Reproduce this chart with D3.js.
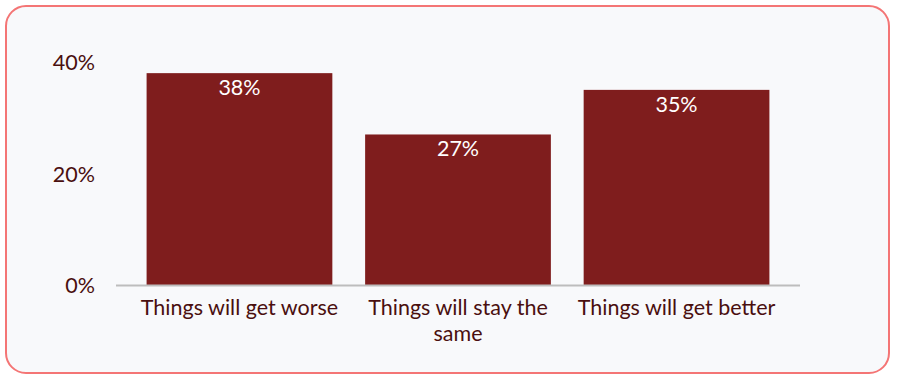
<!DOCTYPE html>
<html>
<head>
<meta charset="utf-8">
<script src="https://cdn.jsdelivr.net/npm/d3@7"></script>
<style>
html,body{margin:0;padding:0;background:#fff;}
svg{display:block;font-family:Lato,"Open Sans",sans-serif;}
</style>
</head>
<body>
<svg id="chart" width="898" height="380"></svg>
<script>
const categories = ["Things will get worse", "Things will stay the same", "Things will get better"];
const values = [38, 27, 35];
const tickValues = [0, 20, 40];
const tickLabels = ["0%", "20%", "40%"];

const W = 898, H = 380;
const svg = d3.select("#chart");
svg.append("rect").attr("x", 6).attr("y", 6).attr("width", 883).attr("height", 367)
  .attr("rx", 20).attr("ry", 20).attr("fill", "#f8f9fb").attr("stroke", "#f47575").attr("stroke-width", 2);

const left = 116, right = 800, bottom = 285;
const x = d3.scaleBand().domain(categories).range([left, right]).paddingInner(0.15).paddingOuter(0.14);
const y = d3.scaleLinear().domain([0, 40]).range([bottom, 62]);

const g = svg.append("g");
g.selectAll("rect.bar").data(values).join("rect").attr("class", "bar")
  .attr("x", (d, i) => x(categories[i])).attr("width", x.bandwidth())
  .attr("y", d => y(d)).attr("height", d => y(0) - y(d)).attr("fill", "#7f1d1d");

g.selectAll("text.val").data(values).join("text").attr("class", "val")
  .attr("x", (d, i) => x(categories[i]) + x.bandwidth() / 2)
  .attr("y", d => y(d) + 22).attr("text-anchor", "middle")
  .attr("fill", "#ffffff").attr("font-size", 21.5).text(d => d + "%");

// y axis
const yAxis = d3.axisLeft(y).tickValues(tickValues).tickFormat((d, i) => tickLabels[i]).tickSize(0).tickPadding(0);
const ya = svg.append("g").attr("transform", "translate(95,0)").call(yAxis);
ya.select(".domain").remove();
ya.selectAll("text").attr("fill", "#4a0f0f").attr("font-size", 21.5).attr("font-family", "Lato, sans-serif").attr("dy", "0.35em");

// baseline
svg.append("line").attr("x1", left).attr("x2", right).attr("y1", bottom + 0.5).attr("y2", bottom + 0.5)
  .attr("stroke", "#bdbdbd").attr("stroke-width", 2);

// x labels with wrapping
const xa = svg.append("g").attr("transform", `translate(0,${bottom})`)
  .call(d3.axisBottom(x).tickSize(0).tickPadding(0));
xa.select(".domain").remove();
xa.selectAll("text").attr("fill", "#4a0f0f").attr("font-size", 21.5).attr("font-family", "Lato, sans-serif")
  .attr("dy", null).attr("y", 30)
  .each(function(d) {
    const t = d3.select(this);
    const words = d.split(" ");
    t.text(null);
    let line = [];
    let tspan = t.append("tspan").attr("x", 0).attr("y", 30);
    let ln = 0;
    for (const w of words) {
      line.push(w);
      tspan.text(line.join(" "));
      if (tspan.node().getComputedTextLength() > x.bandwidth() + 20 && line.length > 1) {
        line.pop();
        tspan.text(line.join(" "));
        line = [w];
        ln++;
        tspan = t.append("tspan").attr("x", 0).attr("y", 30 + ln * 26).text(w);
      }
    }
  });
</script>
</body>
</html>
